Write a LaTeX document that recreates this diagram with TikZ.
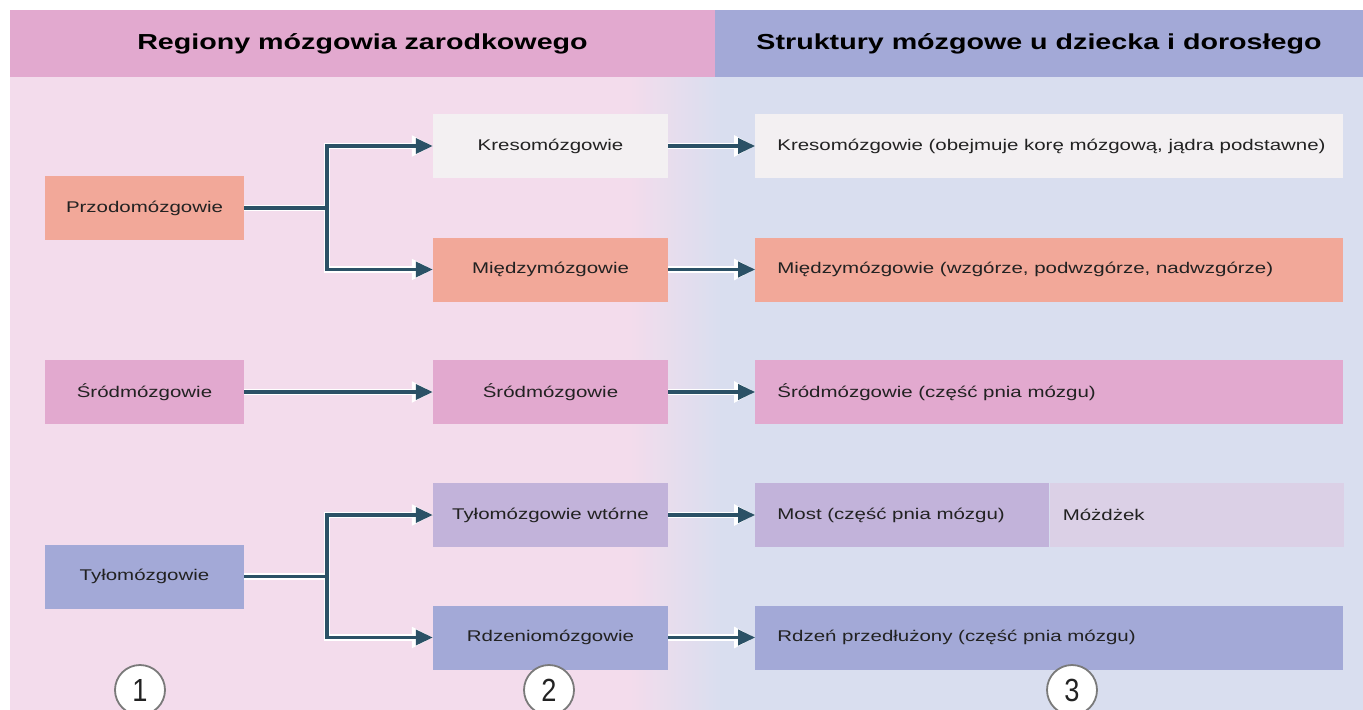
\documentclass[tikz,border=0pt]{standalone}
\usepackage{fontspec}
\setmainfont{Liberation Sans}[FakeStretch=1.32]
\newfontfamily\numfont{Liberation Sans}[FakeStretch=0.85]
\usetikzlibrary{arrows.meta, positioning}
\definecolor{hdrPink}{HTML}{E2A9CF}
\definecolor{hdrBlue}{HTML}{A3A9D7}
\definecolor{bgPink}{HTML}{F3DCEC}
\definecolor{bgBlue}{HTML}{D9DEEF}
\definecolor{salmonC}{HTML}{F2A899}
\definecolor{pinkC}{HTML}{E2A9CF}
\definecolor{lavC}{HTML}{C2B3DA}
\definecolor{blueC}{HTML}{A3A9D7}
\definecolor{lightC}{HTML}{F3F0F2}
\definecolor{paleC}{HTML}{DBD0E6}
\definecolor{wireC}{HTML}{2B5166}
\definecolor{txtC}{HTML}{222222}
\definecolor{ringC}{HTML}{7A7A7A}
\tikzstyle{box} = [rectangle, minimum height=64bp, inner sep=0bp, text=txtC,
   font=\fontsize{15.5bp}{18bp}\selectfont]
\tikzstyle{boxA} = [box, minimum width=199bp]
\tikzstyle{boxB} = [box, minimum width=235bp]
\tikzstyle{boxC} = [box, minimum width=588bp]
\tikzstyle{boxLabel} = [anchor=west, inner sep=0bp, text=txtC,
   font=\fontsize{15.5bp}{18bp}\selectfont]
\tikzstyle{header} = [inner sep=0bp, text=black, font=\bfseries\fontsize{21.7bp}{26bp}\selectfont]
\tikzstyle{halo} = [draw=white, line width=6.5bp, -{Triangle[length=21bp,width=20bp]}]
\tikzstyle{wire} = [draw=wireC, line width=3.5bp, -{Triangle[length=17bp,width=15bp]}]
\tikzstyle{linkArrow} = [wire, preaction={halo}]
\tikzstyle{stage} = [circle, draw=ringC, line width=1.8bp, fill=white,
   minimum size=50bp, inner sep=0bp, text=txtC, font=\numfont\fontsize{32bp}{32bp}\selectfont]

\begin{document}
\begin{tikzpicture}[x=1bp, y=-1bp]
  \useasboundingbox (0,0) rectangle (1363,709);
  % background
  \fill[bgPink] (10,10) rectangle (631,720);
  \shade[left color=bgPink, right color=bgBlue] (630,77) rectangle (721,720);
  \fill[bgBlue] (720,77) rectangle (1375,720);
  \fill[hdrPink] (10,10) rectangle (715,77);
  \fill[hdrBlue] (715,10) rectangle (1375,77);
  \node[header] (h1) at (362.5,43.5) {Regiony mózgowia zarodkowego};
  \node[header] (h2) at (1039,43.5) {Struktury mózgowe u dziecka i dorosłego};
  % column 1
  \node[boxA, fill=salmonC] (p1) at (144.5,208) {Przodomózgowie};
  \node[boxA, fill=pinkC] (s1) at (144.5,392) {Śródmózgowie};
  \node[boxA, fill=blueC] (t1) at (144.5,576.5) {Tyłomózgowie};
  % column 2
  \node[boxB, fill=lightC] (k2) at (550.5,146) {Kresomózgowie};
  \node[boxB, fill=salmonC] (m2) at (550.5,269.5) {Międzymózgowie};
  \node[boxB, fill=pinkC] (s2) at (550.5,392) {Śródmózgowie};
  \node[boxB, fill=lavC] (w2) at (550.5,515) {Tyłomózgowie wtórne};
  \node[boxB, fill=blueC] (r2) at (550.5,637.5) {Rdzeniomózgowie};
  % column 3
  \node[boxC, fill=lightC, right=87bp of k2] (k3) {};
  \node[boxC, fill=salmonC, right=87bp of m2] (m3) {};
  \node[boxC, fill=pinkC, right=87bp of s2] (s3) {};
  \node[box, minimum width=294bp, fill=lavC, right=87bp of w2] (most3) {};
  \node[box, minimum width=294bp, fill=paleC, right=0bp of most3] (mozd3) {};
  \node[boxC, fill=blueC, right=87bp of r2] (r3) {};
  \node[boxLabel] (k3t) at ([xshift=22bp]k3.west) {Kresomózgowie (obejmuje korę mózgową, jądra podstawne)};
  \node[boxLabel] (m3t) at ([xshift=22bp]m3.west) {Międzymózgowie (wzgórze, podwzgórze, nadwzgórze)};
  \node[boxLabel] (s3t) at ([xshift=22bp]s3.west) {Śródmózgowie (część pnia mózgu)};
  \node[boxLabel] (most3t) at ([xshift=22bp]most3.west) {Most (część pnia mózgu)};
  \node[boxLabel] (mozd3t) at ([xshift=13bp]mozd3.west) {Móżdżek};
  \node[boxLabel] (r3t) at ([xshift=22bp]r3.west) {Rdzeń przedłużony (część pnia mózgu)};
  % branching connectors: halos first, then wires
  \foreach \a/\b in {p1/k2, p1/m2, t1/w2, t1/r2}
    \draw[halo] (\a.east) -- ++(83bp,0) |- (\b.west);
  \foreach \a/\b in {p1/k2, p1/m2, t1/w2, t1/r2}
    \draw[wire] (\a.east) -- ++(83bp,0) |- (\b.west);
  \foreach \a/\b in {s1/s2, k2/k3, m2/m3, s2/s3, w2/most3, r2/r3}
    \draw[linkArrow] (\a) -- (\b);
  % stage markers
  \node[stage] (n1) at (140,690) {1};
  \node[stage] (n2) at (549,690) {2};
  \node[stage] (n3) at (1072,690) {3};
\end{tikzpicture}
\end{document}
